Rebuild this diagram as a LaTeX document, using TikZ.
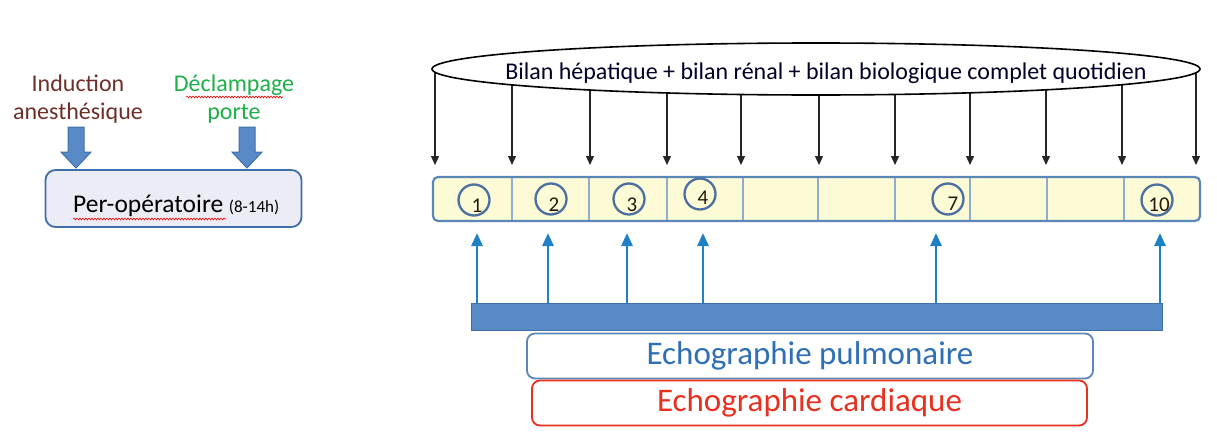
\documentclass[tikz,border=0pt]{standalone}
\usepackage{fontspec}
\setmainfont{Carlito}
\usetikzlibrary{arrows.meta,backgrounds,decorations.pathmorphing,shapes.geometric}
\definecolor{induc}{HTML}{6E2F2A}
\definecolor{declamp}{HTML}{1FAF4A}
\definecolor{blockblue}{HTML}{5A8AC6}
\definecolor{blockedge}{HTML}{3F6FA8}
\definecolor{lav}{HTML}{ECECF6}
\definecolor{dayfill}{HTML}{FDFAD6}
\definecolor{dayedge}{HTML}{5B86B8}
\definecolor{daydiv}{HTML}{8EAED0}
\definecolor{circedge}{HTML}{4A6FA0}
\definecolor{uparrow}{HTML}{1F80C6}
\definecolor{pulmtext}{HTML}{2E6FB5}
\definecolor{cardred}{HTML}{E8301E}
\tikzset{
  lbl/.style={font=\fontsize{24}{28}\selectfont, align=center, inner sep=0pt},
  blockarrow/.style={fill=blockblue, draw=blockedge, line width=1pt},
  daycircle/.style={circle, draw=circedge, line width=2.3pt, minimum size=31pt, inner sep=0pt},
  daynum/.style={font=\fontsize{21}{21}\selectfont, text=black!80!brown, inner sep=0pt},
  bilanarrow/.style={line width=1.2pt, draw=black!85, -{Triangle[length=9pt,width=8pt]}},
  echoarrow/.style={line width=2.8pt, draw=uparrow, -{Triangle[length=13pt,width=11pt]}},
  echobox/.style={rounded corners=8pt, line width=1.8pt, fill=white, inner sep=0pt},
  spell/.style={draw=red, line width=0.6pt, decorate, decoration={snake, amplitude=0.9pt, segment length=3pt}}
}
\begin{document}
\begin{tikzpicture}[x=1pt,y=-1pt]
\useasboundingbox (0,0) rectangle (1217,447);

% ---------- left part ----------
\node[lbl, text=induc] (induc) at (78,99) {Induction\\anesthésique};
\node[lbl, text=declamp] (decl) at (234,99) {Déclampage\\porte};
\draw[spell] (186,97) -- (283,97);

\node[draw=blockedge, fill=lav, line width=1.8pt, rounded corners=10pt,
      minimum width=256pt, minimum height=57pt, inner sep=0pt] (perop) at (173.5,198.5) {};
\node[inner sep=0pt, anchor=base west] (peroptxt) at (73,212)
  {\fontsize{25.5}{25.5}\selectfont Per-opératoire \fontsize{17}{17}\selectfont(8-14h)};
\draw[spell] (73,219) -- (226,219);

\draw[blockarrow] (68,127) -- (84,127) -- (84,152) -- (91,152) -- (76,168) -- (61,152) -- (68,152) -- cycle;
\draw[blockarrow] (239,127) -- (255,127) -- (255,152) -- (262,152) -- (247,168) -- (232,152) -- (239,152) -- cycle;

% ---------- ellipse ----------
\node[ellipse, draw=black, line width=1.6pt, fill=white, minimum width=768pt, minimum height=52pt,
      inner sep=0pt] (bilan) at (816,69) {};
\node[inner sep=0pt, font=\fontsize{24}{24}\selectfont, text=black!85!blue] (bilantxt) at (826,73)
  {Bilan hépatique + bilan rénal + bilan biologique complet quotidien};

% ---------- day bar ----------
\node[draw=dayedge, fill=dayfill, line width=2.2pt, rounded corners=5pt,
      minimum width=767pt, minimum height=44pt, inner sep=0pt] (days) at (816.5,199) {};
\foreach \x in {512,589,667,743,818,895,970,1047,1124}
  \draw[daydiv, line width=1.4pt] (\x,178) -- (\x,220);

\node[daycircle] (c1) at (474,200) {};
\node[daycircle] (c2) at (551,199) {};
\node[daycircle] (c3) at (629,199) {};
\node[daycircle] (c4) at (700,194) {};
\node[daycircle] (c7) at (948,199) {};
\node[daycircle] (c10) at (1157,200) {};
\node[daynum] at (477,206) {1};
\node[daynum] at (554,205) {2};
\node[daynum] at (632,205) {3};
\node[daynum] at (703,198) {4};
\node[daynum] at (953,204) {7};
\node[daynum] at (1159,205) {10};

% ---------- bilan arrows ----------
\foreach \x [count=\i] in {435,512,590,667,741,819,895,970,1046,1122,1196}
  \coordinate (d\i) at (\x,165);
\begin{scope}[on background layer]
  \fill[white] (0,0) rectangle (1217,447);
  \foreach \i in {1,...,11}
    \draw[bilanarrow] (bilan.center -| d\i) -- (d\i);
\end{scope}

% ---------- echo bar and arrows ----------
\node[fill=blockblue, draw=blockedge, line width=0.8pt, minimum width=691pt, minimum height=27pt,
      inner sep=0pt] (echobar) at (816.5,316.5) {};
\foreach \x [count=\i] in {477,548,627,703,936,1160}
  \coordinate (u\i) at (\x,233);
\foreach \i in {1,...,6}
  \draw[echoarrow] (echobar.north -| u\i) -- (u\i);

\node[echobox, draw=dayedge, minimum width=566pt, minimum height=45pt,
      text=pulmtext, font=\fontsize{33}{33}\selectfont] (pulm) at (810,356) {Echographie pulmonaire};
\node[echobox, draw=cardred, minimum width=555pt, minimum height=45pt,
      text=cardred, font=\fontsize{33}{33}\selectfont] (card) at (809.5,403) {Echographie cardiaque};
\end{tikzpicture}
\end{document}
